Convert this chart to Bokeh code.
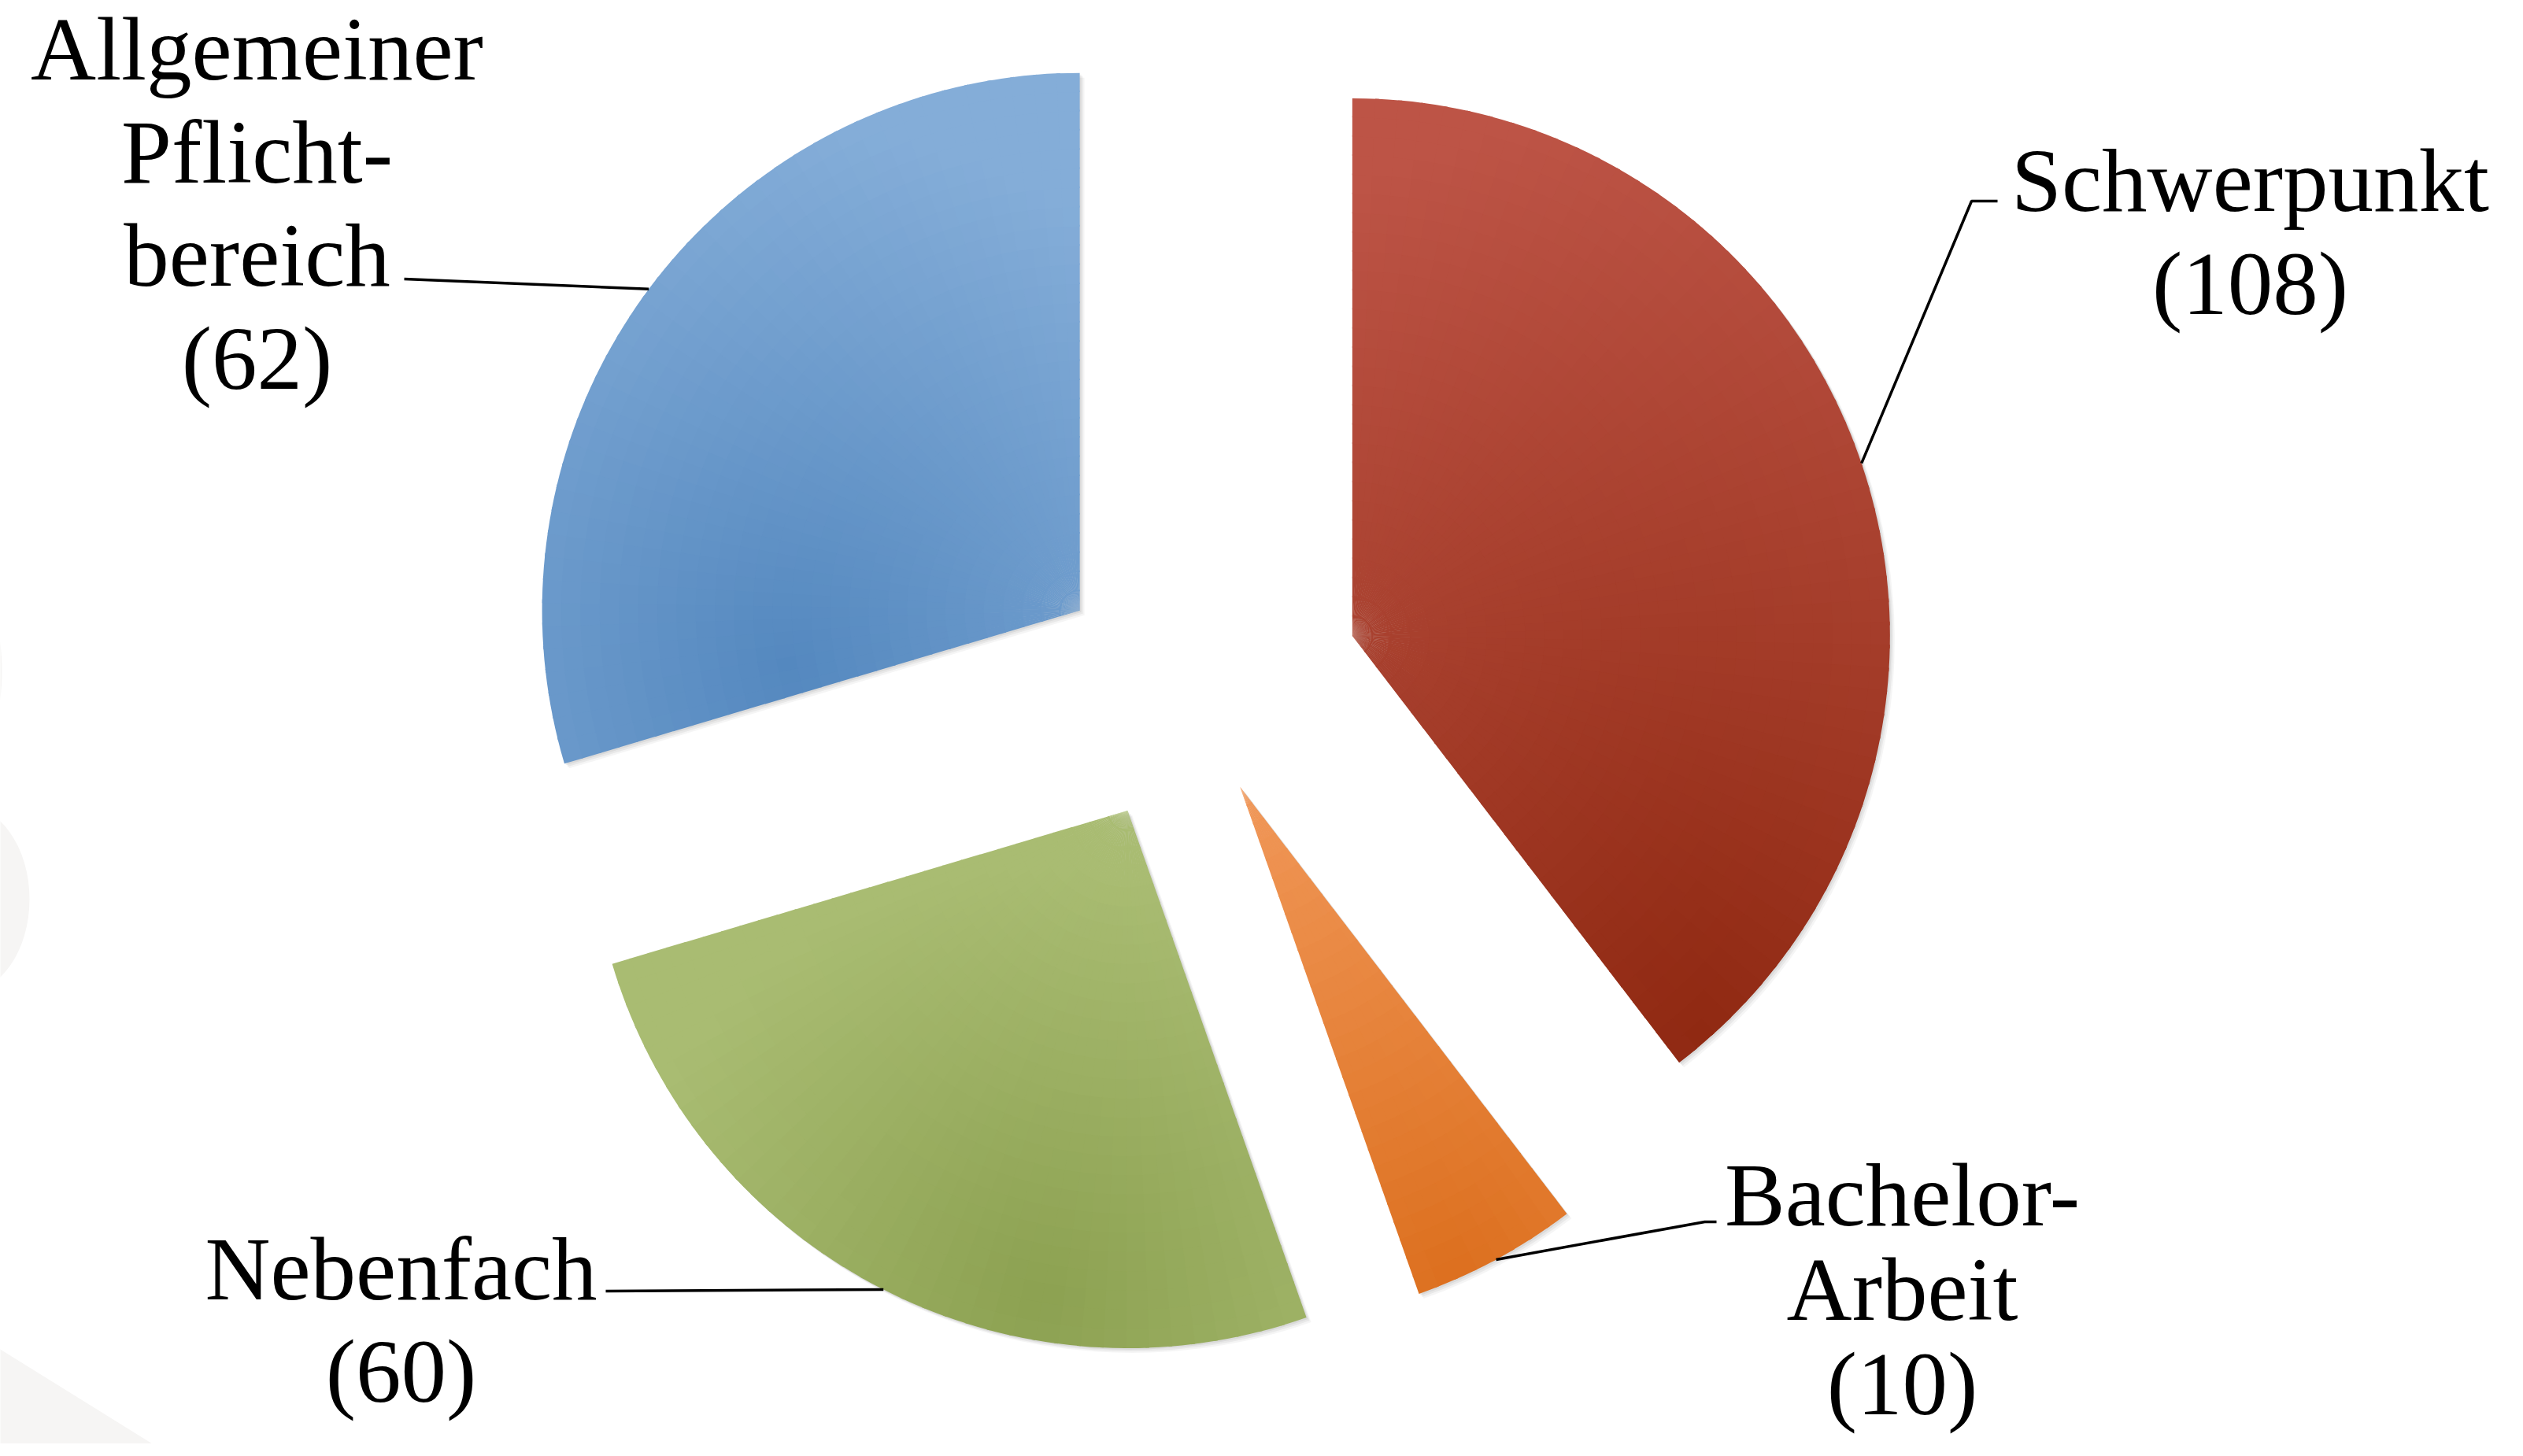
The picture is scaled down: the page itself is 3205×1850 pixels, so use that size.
import numpy as np
from bokeh.plotting import figure
from bokeh.models import Range1d, ColumnDataSource
from bokeh.embed import file_html
from bokeh.resources import INLINE
from bokeh.core.properties import value

# ---------------- data ----------------
categories = ["Schwerpunkt", "Bachelor-Arbeit", "Nebenfach", "Allgemeiner Pflichtbereich"]
credits = [108, 10, 60, 62]
# share of the circle each slice occupies in the picture (percent)
share_pct = [39.6, 5.0, 25.8, 29.6]
label_lines = [["Schwerpunkt"], ["Bachelor-", "Arbeit"], ["Nebenfach"],
               ["Allgemeiner", "Pflicht-", "bereich"]]

# ---------------- style / layout ----------------
light = ["#bd5446", "#f19859", "#a9bc72", "#84add8"]
dark = ["#902912", "#dc6f1e", "#8ca151", "#5488bf"]
# gradient focus: (fraction of angle span, fraction of radius, falloff in radii)
focus = [(0.97, 0.97, 1.7), (0.75, 1.0, 1.0), (0.32, 0.92, 0.8), (0.05, 0.55, 1.0)]
explode = [220, 138, 170, 172]

PAGE_H = 1850
W, H = 3189, 1834
CX, CY = 1517, PAGE_H - 886
R = 683

FS = 115
BASE_SHIFT = 0.28 * FS   # Bokeh draws the "alphabetic" anchor slightly above the baseline
label_x = [2866, 2424, 517, 334]
label_base0 = [269, 1558, 1652, 102]
line_h = [131, 120, 130, 131]
leader_tail = [[(2512, 263), (2545, 263)], [(2173, 1560), (2188, 1560)],
               [(777, 1648)], [(521, 362)]]


def hex2rgb(h):
    h = h.lstrip("#")
    return np.array([int(h[i:i + 2], 16) for i in (0, 2, 4)], dtype=float)


def rgb2hex(c):
    c = np.clip(np.round(c), 0, 255).astype(int)
    return "#%02x%02x%02x" % tuple(c)


p = figure(width=W, height=H, x_range=Range1d(8, 8 + W), y_range=Range1d(8, 8 + H),
           output_backend="svg", toolbar_location=None, min_border=0,
           x_axis_location=None, y_axis_location=None)
p.grid.visible = False
p.outline_line_color = None
p.background_fill_color = "white"
p.border_fill_color = "white"

# faint background decoration at the left edge
p.ellipse(x=[-20, -40], y=[PAGE_H - 860, PAGE_H - 1150], width=[60, 170], height=[190, 240],
          fill_color="#f6f5f4", line_color=None)
p.patch(x=[0, 230, 0], y=[PAGE_H - 1717, -10, -10], fill_color="#f6f5f4", line_color=None)

total = sum(share_pct)
bounds = np.concatenate([[0], np.cumsum(share_pct)]) / total * 360.0

apex = []
for i in range(len(categories)):
    a0, a1 = bounds[i], bounds[i + 1]
    m = np.radians((a0 + a1) / 2)
    apex.append((CX + explode[i] * np.sin(m), CY + explode[i] * np.cos(m)))

# soft shadows
for off, al in [(6, 0.04), (4, 0.05), (2, 0.06)]:
    for i in range(len(categories)):
        a0, a1 = bounds[i], bounds[i + 1]
        p.wedge(x=apex[i][0] + off, y=apex[i][1] - off, radius=R,
                start_angle=np.radians(90 - a1), end_angle=np.radians(90 - a0),
                fill_color="black", fill_alpha=al, line_color=None)

# gradient-filled slices built from small annular cells
NR = 28
STEP = 2.5
for i in range(len(categories)):
    a0, a1 = bounds[i], bounds[i + 1]
    na = max(3, int(np.ceil((a1 - a0) / STEP)))
    angs = np.linspace(a0, a1, na + 1)
    rads = np.linspace(0, R, NR + 1)
    fa, fr, fd = focus[i]
    th_f = np.radians(a0 + fa * (a1 - a0))
    fx, fy = fr * R * np.sin(th_f), fr * R * np.cos(th_f)
    L, D = hex2rgb(light[i]), hex2rgb(dark[i])
    xs, ys, rin, rout, sa, ea, cols = [], [], [], [], [], [], []
    for j in range(NR):
        for k in range(na):
            lo, hi = angs[k], angs[k + 1]
            r_i, r_o = rads[j], rads[j + 1]
            rc, tc = (r_i + r_o) / 2, np.radians((lo + hi) / 2)
            d = np.hypot(rc * np.sin(tc) - fx, rc * np.cos(tc) - fy) / R
            t = np.clip(d / fd, 0, 1)
            col = D + (L - D) * t
            hi_e = hi + (0.4 if k < na - 1 else 0)
            ro_e = r_o + (2.0 if j < NR - 1 else 0)
            xs.append(apex[i][0]); ys.append(apex[i][1])
            rin.append(r_i); rout.append(ro_e)
            sa.append(np.radians(90 - hi_e)); ea.append(np.radians(90 - lo))
            cols.append(rgb2hex(col))
    src = ColumnDataSource(dict(x=xs, y=ys, ri=rin, ro=rout, sa=sa, ea=ea, c=cols))
    p.annular_wedge(x="x", y="y", inner_radius="ri", outer_radius="ro",
                    start_angle="sa", end_angle="ea", fill_color="c",
                    line_color=None, source=src)

# leader lines from the middle of each arc to the label
for i in range(len(categories)):
    m = np.radians((bounds[i] + bounds[i + 1]) / 2)
    sx = apex[i][0] + R * np.sin(m)
    sy = apex[i][1] + R * np.cos(m)
    lx = [sx] + [pt[0] for pt in leader_tail[i]]
    ly = [sy] + [PAGE_H - pt[1] for pt in leader_tail[i]]
    p.line(lx, ly, line_color="black", line_width=3.5)

# labels
tx, ty, tt = [], [], []
for i in range(len(categories)):
    lines = label_lines[i] + ["(%d)" % credits[i]]
    for k, s in enumerate(lines):
        tx.append(label_x[i])
        ty.append(PAGE_H - (label_base0[i] + k * line_h[i] - BASE_SHIFT))
        tt.append(s)
p.text(x=tx, y=ty, text=tt, text_font=value("Liberation Serif"), text_font_size="%dpx" % FS,
       text_align="center", text_baseline="alphabetic", text_color="black")

open("out.html", "w").write(file_html(p, INLINE))
